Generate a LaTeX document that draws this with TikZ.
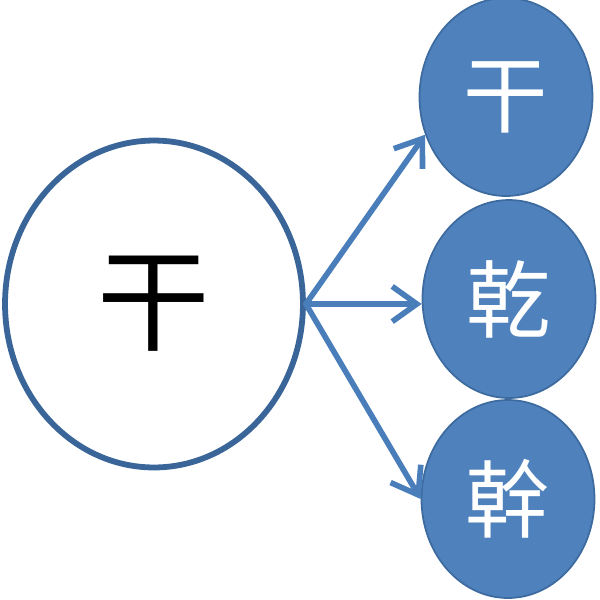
\documentclass[tikz,border=0pt]{standalone}
\usepackage{fontspec}
\newfontfamily\cjk{Noto Sans CJK TC}
\usepackage{tikz}
\usetikzlibrary{shapes.geometric,arrows.meta}
\definecolor{rimblue}{HTML}{3A6599}
\definecolor{fillblue}{HTML}{4F81BD}
\definecolor{edgeblue}{HTML}{3D6B9F}
\definecolor{linkblue}{HTML}{4A7EBB}

\begin{document}
\begin{tikzpicture}[x=0.02cm, y=-0.02cm,
    big/.style={ellipse, draw=rimblue, line width=3.3pt, fill=white, inner sep=0pt,
      minimum width=5.96cm, minimum height=6.54cm, font=\cjk\fontsize{64}{64}\selectfont},
    small/.style={ellipse, draw=edgeblue, line width=1pt, fill=fillblue, text=white, inner sep=0pt,
      minimum width=3.46cm, minimum height=3.96cm, font=\cjk\fontsize{48}{48}\selectfont},
    link/.style={draw=linkblue, line width=3.2pt, line cap=round, line join=round,
      -{Straight Barb[length=14pt,width=20pt]}}]
    \useasboundingbox (0,0) rectangle (600,600);
    \node[big] (C0) at (154,304) {干};
    \node[small] (C1) at (506,97) {干};
    \node[small] (C2) at (509,299) {乾};
    \node[small] (C3) at (508,499) {幹};
    \draw[link] (C0.east) -- (C1.205);
    \draw[link] (C0.east) -- (C0.east -| C2.west);
    \draw[link] (C0.east) -- (C3.west);
  \end{tikzpicture}
\end{document}
